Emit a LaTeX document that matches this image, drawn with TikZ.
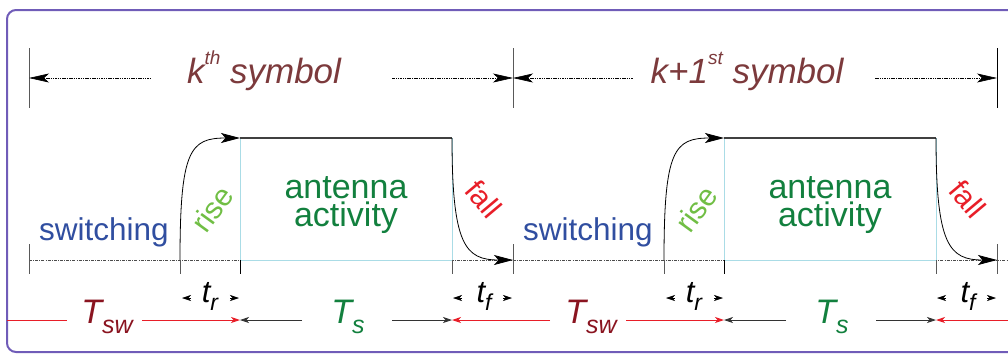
\documentclass[tikz,border=0pt]{standalone}
\usepackage{fontspec}
\setmainfont{Liberation Sans}
\usetikzlibrary{arrows.meta}
\definecolor{framec}{RGB}{112,92,184}
\definecolor{symc}{RGB}{124,58,60}
\definecolor{swc}{RGB}{48,78,160}
\definecolor{risec}{RGB}{112,190,68}
\definecolor{antc}{RGB}{18,128,62}
\definecolor{fallc}{RGB}{232,30,40}
\definecolor{tswc}{RGB}{138,20,32}
\definecolor{boxc}{RGB}{170,220,230}
\newcommand\myfs[1]{\fontsize{#1}{#1}\selectfont}
\tikzset{
  tickline/.style={draw=black!65, line width=0.8pt},
  baseline/.style={draw=black!70, line width=0.6pt, dash pattern=on 3pt off 1.2pt on 0.8pt off 1.2pt},
  sigline/.style={draw=black, line width=0.8pt},
  bigtip/.style={-{Stealth[length=19pt,width=10pt,inset=4.5pt]}},
  toptrace/.style={draw=black!75, line width=2.2pt},
  boxline/.style={draw=boxc, line width=0.8pt},
  dimline/.style={draw=black, line width=0.6pt, dash pattern=on 1.5pt off 0.8pt},
  dimtip/.style={{Stealth[length=20pt,width=9pt,inset=5pt]}-},
  smalltip/.style={-{Stealth[length=9pt,width=6pt,inset=2.5pt]}},
  redline/.style={draw=fallc, line width=1pt},
  blkline/.style={draw=black!80, line width=0.8pt},
  lbl/.style={inner sep=0pt, anchor=base},
}
\begin{document}
\begin{tikzpicture}[x=1pt,y=-1pt]
\useasboundingbox (0,0) rectangle (1008,354);
% frame
\draw[framec, line width=2pt, rounded corners=9pt] (7,10) rectangle (1040,352);

% ---------- top symbol dimensions ----------
\foreach \x in {29,513} \draw[tickline] (\x,48) -- (\x,108);
\draw[draw=black, line width=0.8pt] (997,48) -- (997,108);
\coordinate (v0) at (29,78);
\coordinate (v1) at (513,78);
\coordinate (v2) at (997,78);
\coordinate (k1l) at (150,78);
\coordinate (k1r) at (392,78);
\coordinate (k2l) at (633,78);
\coordinate (k2r) at (875,78);
\node[lbl, text=symc] (k1) at (264,83) {\myfs{35}\itshape k\raisebox{19pt}{\myfs{19}th} symbol};
\node[lbl, text=symc] (k2) at (747,83) {\myfs{35}\itshape k+1\raisebox{19pt}{\myfs{19}st} symbol};
\draw[dimline, dimtip] (v0) -- (k1l);
\draw[dimline, dimtip] (v1) -- (k1r);
\draw[dimline, dimtip] (v1) -- (k2l);
\draw[dimline, dimtip] (v2) -- (k2r);

% ---------- baseline ----------
\coordinate (b0) at (29,260);
\coordinate (bend) at (1010,260);
\draw[baseline] (b0) -- (bend);

% ---------- two periods ----------
\foreach \i/\o in {1/0,2/484} {
\begin{scope}[xshift=\o]
  \coordinate (s\i) at (29,260);
  \coordinate (r\i) at (180,260);
  \coordinate (a\i) at (240,138);
  \coordinate (f\i) at (452,138);
  \coordinate (e\i) at (513,260);
  % box
  \draw[boxline] (240,138) rectangle (452,260);
  % ticks
  \draw[tickline] (29,244) -- (29,274);
  \draw[tickline] (180,260) -- (180,274);
  \draw[draw=black, line width=0.8pt] (240,260) -- (240,274);
  \draw[tickline] (452,260) -- (452,274);
  \draw[tickline] (513,244) -- (513,274);
  % trace
  \draw[toptrace] (a\i) -- (f\i);
  \draw[sigline, bigtip] (r\i) .. controls (180,150) and (190,138) .. (a\i);
  \draw[sigline, bigtip] (f\i) .. controls (452,245) and (465,260) .. (e\i);
  % texts
  \node[lbl, text=swc] (sw\i) at (104,240) {\myfs{31.5}switching};
  \node[inner sep=0pt, text=risec, rotate=54] (rise\i) at (212,209) {\myfs{30}rise};
  \node[inner sep=0pt, text=antc, align=center] (ant\i) at (346,205) {\myfs{34}antenna\\[2pt]\myfs{34}activity};
  \node[inner sep=0pt, text=fallc, rotate=-50] (fall\i) at (484,199) {\myfs{30}fall};
  % t_r and t_f
  \node[lbl] (tr\i) at (210,302) {\myfs{31}\itshape t\raisebox{-8pt}{\myfs{23}r}};
  \node[lbl] (tf\i) at (484,302) {\myfs{31}\itshape t\raisebox{-8pt}{\myfs{23}f}};
  \coordinate (trl\i) at (182,298);
  \coordinate (trr\i) at (239,298);
  \coordinate (tfl\i) at (453,298);
  \coordinate (tfr\i) at (512,298);
  \draw[draw=black, line width=0.6pt, smalltip] ([xshift=9pt]trl\i) -- (trl\i);
  \draw[draw=black, line width=0.6pt, smalltip] ([xshift=-9pt]trr\i) -- (trr\i);
  \draw[draw=black, line width=0.6pt, smalltip] ([xshift=9pt]tfl\i) -- (tfl\i);
  \draw[draw=black, line width=0.6pt, smalltip] ([xshift=-9pt]tfr\i) -- (tfr\i);
  % T_sw and T_s
  \node[lbl, text=tswc] (Tsw\i) at (107,323) {\myfs{34}\itshape T\raisebox{-10pt}{\myfs{25}sw}};
  \node[lbl, text=antc] (Ts\i) at (348,323) {\myfs{34}\itshape T\raisebox{-10pt}{\myfs{25}s}};
  \coordinate (swr\i) at (142,320);
  \coordinate (tsa\i) at (240,320);
  \coordinate (tsl\i) at (302,320);
  \coordinate (tsr\i) at (392,320);
  \coordinate (tsb\i) at (452,320);
  \draw[redline, smalltip] (swr\i) -- (tsa\i);
  \draw[blkline, smalltip] (tsl\i) -- (tsa\i);
  \draw[blkline, smalltip] (tsr\i) -- (tsb\i);
  \draw[redline, smalltip] ([xshift=98pt]tsb\i) -- (tsb\i);
\end{scope}
}
\coordinate (fr0) at (7,320);
\coordinate (fr1) at (67,320);
\draw[redline] (fr0) -- (fr1);
\end{tikzpicture}
\end{document}
